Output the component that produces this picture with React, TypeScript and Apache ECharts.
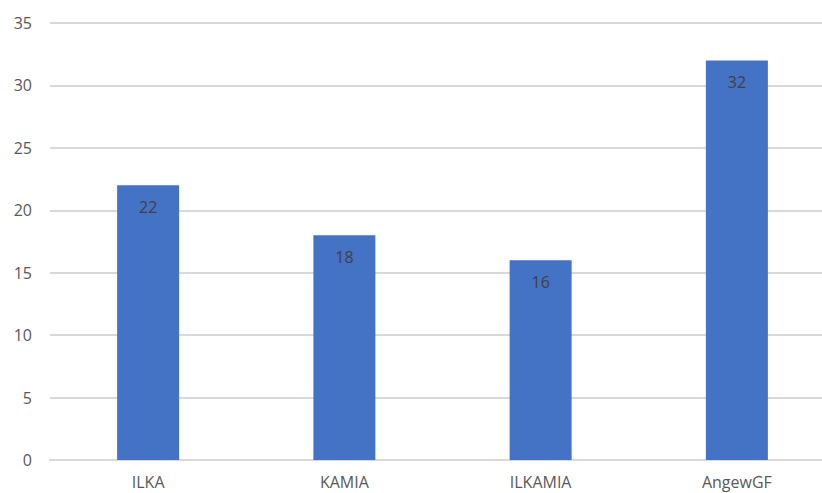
import React, { useEffect, useRef } from "react";
import * as echarts from "echarts";

const categories = ["ILKA", "KAMIA", "ILKAMIA", "AngewGF"];
const values = [22, 18, 16, 32];
const yMin = 0;
const yMax = 35;
const yStep = 5;

export default function App() {
  const ref = useRef<HTMLDivElement>(null);
  useEffect(() => {
    if (!ref.current) return;
    const chart = echarts.init(ref.current, null, { renderer: "svg" });
    chart.setOption({
      animation: false,
      backgroundColor: "#ffffff",
      grid: { left: 50, right: 0, top: 23, bottom: 33, containLabel: false },
      xAxis: {
        type: "category",
        data: categories,
        axisLine: { show: true, lineStyle: { color: "#d9d9d9", width: 2 } },
        axisTick: { show: false },
        axisLabel: { color: "#595959", fontSize: 16, lineHeight: 16, fontFamily: "Open Sans", margin: 14 },
      },
      yAxis: {
        type: "value",
        min: yMin,
        max: yMax,
        interval: yStep,
        axisLine: { show: false },
        axisTick: { show: false },
        splitLine: { lineStyle: { color: "#d9d9d9", width: 2 } },
        axisLabel: { color: "#595959", fontSize: 16, fontFamily: "Open Sans", margin: 18 },
      },
      series: [
        {
          type: "bar",
          data: values,
          barWidth: 62,
          itemStyle: { color: "#4472C4" },
          label: {
            show: true,
            position: "insideTop",
            distance: 14,
            color: "#404040",
            fontSize: 16,
            fontFamily: "Open Sans",
          },
        },
      ],
    });
    return () => chart.dispose();
  }, []);
  return (
    <div
      style={{
        position: "fixed",
        left: 0,
        top: 0,
        width: 822,
        height: 493,
        overflow: "hidden",
        background: "#ffffff",
      }}
    >
      <div ref={ref} style={{ width: 835, height: 493 }} />
    </div>
  );
}
